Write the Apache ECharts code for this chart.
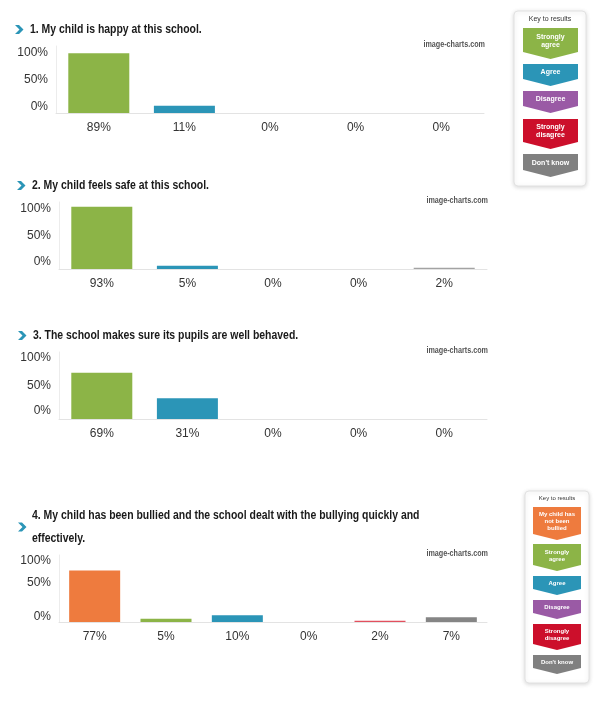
<!DOCTYPE html>
<html>
<head>
<meta charset="utf-8">
<script src="https://cdn.jsdelivr.net/npm/echarts@6/dist/echarts.min.js"></script>
<style>
  html, body { margin: 0; padding: 0; background: #fff; }
  #chart { width: 605px; height: 701px; }
</style>
</head>
<body>
<div id="chart"></div>
<script>
// answer options
const answers5 = ['Strongly agree', 'Agree', 'Disagree', 'Strongly disagree', "Don't know"];
const answers6 = ['My child has not been bullied', 'Strongly agree', 'Agree', 'Disagree', 'Strongly disagree', "Don't know"];

// question texts
const questions = [
  '1. My child is happy at this school.',
  '2. My child feels safe at this school.',
  '3. The school makes sure its pupils are well behaved.',
  '4. My child has been bullied and the school dealt with the bullying quickly and\neffectively.'
];

// percentages per question
const q1Values = [89, 11, 0, 0, 0];
const q2Values = [93, 5, 0, 0, 2];
const q3Values = [69, 31, 0, 0, 0];
const q4Values = [77, 5, 10, 0, 2, 7];

// y tick values
const yTicks = [0, 50, 100];

// legend keys
const key1Labels = ['Strongly\nagree', 'Agree', 'Disagree', 'Strongly\ndisagree', "Don't know"];
const key2Labels = ['My child has\nnot been\nbullied', 'Strongly\nagree', 'Agree', 'Disagree', 'Strongly\ndisagree', "Don't know"];

const C = {
  green: '#8cb447', blue: '#2b95b7', purple: '#9a5aa5', red: '#cc0f2b',
  gray: '#808080', orange: '#ee7b3e'
};
const barColors5 = [C.green, C.blue, C.purple, C.red, '#a3a3a3'];
const barColors6 = [C.orange, C.green, C.blue, C.purple, '#e2505e', '#858585'];
const keyColors1 = [C.green, C.blue, C.purple, C.red, C.gray];
const keyColors2 = [C.orange, C.green, C.blue, C.purple, C.red, C.gray];

const SANS = "'Liberation Sans', Arial, sans-serif";

// layout of the four panels
const panels = [
  { cats: answers5, values: q1Values, colors: barColors5, left: 56, top: 46, barW: 61, shift: { 100: 7, 50: 0, 0: -6 } },
  { cats: answers5, values: q2Values, colors: barColors5, left: 59, top: 202, barW: 61, shift: { 100: 7, 50: 0, 0: -7 } },
  { cats: answers5, values: q3Values, colors: barColors5, left: 59, top: 352, barW: 61, shift: { 100: 6, 50: 0, 0: -8 } },
  { cats: answers6, values: q4Values, colors: barColors6, left: 59, top: 555, barW: 51, shift: { 100: 6, 50: -6, 0: -5 } }
];
const titlePos = [
  { x: 30, y: 30, cx: 15, cy: 29.5 },
  { x: 32, y: 186, cx: 17, cy: 185.5 },
  { x: 33, y: 336, cx: 18, cy: 335.5 },
  { x: 32, y: 527, cx: 18, cy: 527 }
];

const pad = d => d >= 0 ? [2 * d, 0, 0, 0] : [0, 0, -2 * d, 0];

const grids = [], xAxes = [], yAxes = [], series = [], graphics = [];

panels.forEach((p, i) => {
  grids.push({ left: p.left, top: p.top, width: 428, height: 67 });
  xAxes.push({
    type: 'category', gridIndex: i, data: p.cats,
    axisLine: { lineStyle: { color: '#e3e3e3', width: 1 } },
    axisTick: { show: false },
    axisLabel: {
      margin: 9, fontSize: 12, fontFamily: SANS, color: '#333',
      formatter: (v, idx) => p.values[idx] + '%'
    }
  });
  const rich = {};
  yTicks.forEach(t => {
    rich['s' + t] = { fontSize: 12, fontFamily: SANS, color: '#333', padding: pad(p.shift[t]) };
  });
  yAxes.push({
    type: 'value', gridIndex: i, min: 0, max: 100, interval: 50,
    axisLine: { show: true, lineStyle: { color: '#ececec', width: 1 } },
    axisTick: { show: false },
    splitLine: { show: false },
    axisLabel: { margin: 8, formatter: v => `{s${v}|${v}%}`, rich }
  });
  series.push({
    type: 'bar', xAxisIndex: i, yAxisIndex: i, barWidth: p.barW, silent: true,
    data: p.values.map((v, k) => ({ value: v, itemStyle: { color: p.colors[k] } }))
  });

  // watermark
  graphics.push({
    type: 'text', x: p.left + 429, y: p.top - 1, scaleX: 0.8,
    style: { text: 'image-charts.com', font: `bold 9px ${SANS}`, fill: '#555', align: 'right', verticalAlign: 'middle' }
  });

  // question title and chevron (condensed bold)
  const t = titlePos[i];
  graphics.push({
    type: 'text', x: t.x, y: t.y, scaleX: 0.87,
    style: {
      text: questions[i], font: `bold 12px ${SANS}`, fill: '#1a1a1a',
      verticalAlign: 'middle', lineHeight: 23
    }
  });
  const cx = t.cx, cy = t.cy;
  graphics.push({
    type: 'polygon',
    shape: { points: [[cx, cy - 4.5], [cx + 4, cy - 4.5], [cx + 8.5, cy], [cx + 4, cy + 4.5], [cx, cy + 4.5], [cx + 4.5, cy]] },
    style: { fill: C.blue }
  });
});

// legend "Key to results" box
function keyBox(box, labels, colors, tops, points, fontSize, lineH) {
  graphics.push({
    type: 'rect',
    shape: { x: box.x, y: box.y, width: box.w, height: box.h, r: 4 },
    style: { fill: '#fff', stroke: '#e2e2e2', lineWidth: 1, shadowBlur: 4, shadowColor: 'rgba(0,0,0,0.15)', shadowOffsetY: 1 }
  });
  const cx = box.x + box.w / 2;
  graphics.push({
    type: 'text', x: cx, y: box.titleY,
    style: { text: 'Key to results', font: `${fontSize}px ${SANS}`, fill: '#333', align: 'center', verticalAlign: 'middle' }
  });
  labels.forEach((lab, k) => {
    const l = box.kl, r = box.kr, top = tops[k], pt = points[k], mid = (l + r) / 2;
    graphics.push({
      type: 'polygon',
      shape: { points: [[l, top], [r, top], [r, pt - box.depth], [mid, pt], [l, pt - box.depth]] },
      style: { fill: colors[k] }
    });
    graphics.push({
      type: 'text', x: mid, y: top + (pt - box.depth - top) / 2 + 1,
      style: {
        text: lab, font: `bold ${fontSize}px ${SANS}`, fill: '#fff',
        align: 'center', verticalAlign: 'middle', lineHeight: lineH
      }
    });
  });
}

keyBox({ x: 514, y: 11, w: 72, h: 175, titleY: 19, kl: 523, kr: 578, depth: 7 },
  key1Labels, keyColors1, [28, 64, 91, 119, 154], [59, 86, 113, 149, 177], 7, 8);
keyBox({ x: 525, y: 491, w: 64, h: 192, titleY: 498, kl: 533, kr: 581, depth: 6 },
  key2Labels, keyColors2, [507, 544, 576, 600, 624, 655], [540, 571, 595, 619, 650, 674], 6, 7);

const chart = echarts.init(document.getElementById('chart'));
chart.setOption({
  animation: false,
  backgroundColor: '#fff',
  grid: grids,
  xAxis: xAxes,
  yAxis: yAxes,
  series,
  graphic: graphics
});
window.addEventListener('resize', () => chart.resize());
</script>
</body>
</html>
